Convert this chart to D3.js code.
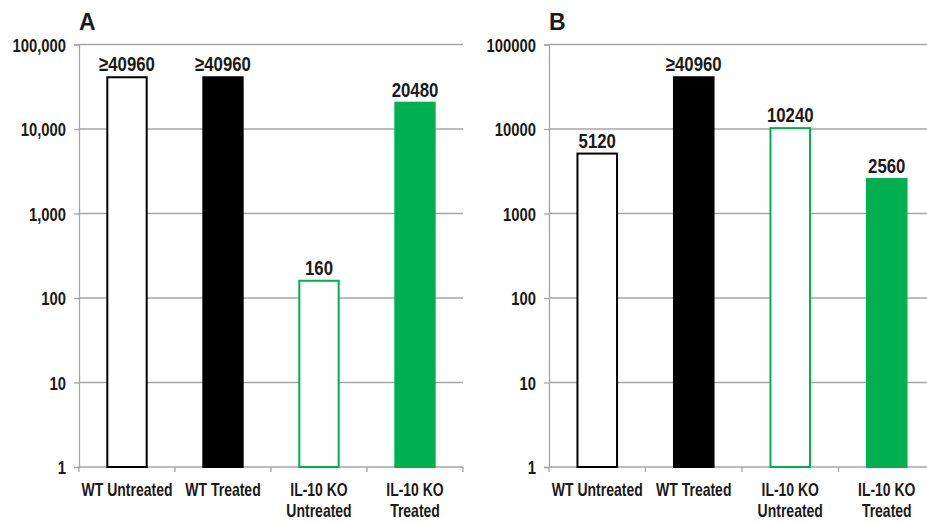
<!DOCTYPE html>
<html><head><meta charset="utf-8">
<script src="https://cdn.jsdelivr.net/npm/d3@7"></script>
<style>
body{margin:0;background:#fff;}
text{font-family:"Liberation Sans",Arial,sans-serif;font-weight:bold;fill:#1a1a1a;}
</style></head>
<body><svg id="c" width="927" height="522"></svg>
<script>
const categories = ["WT Untreated","WT Treated","IL-10 KO|Untreated","IL-10 KO|Treated"];
const panelTitles = ["A","B"];
const valuesA = [40960, 40960, 160, 20480];
const valuesB = [5120, 40960, 10240, 2560];
const labelsA = ["≥40960","≥40960","160","20480"];
const labelsB = ["5120","≥40960","10240","2560"];
const tickValues = [1,10,100,1000,10000,100000];
const tickLabelsA = ["1","10","100","1,000","10,000","100,000"];
const tickLabelsB = ["1","10","100","1000","10000","100000"];
const barFill = ["#ffffff","#000000","#ffffff","#00b050"];
const barStroke = ["#000000","#000000","#00b050","#00b050"];

(function(){
const svg = d3.select("#c");
const plotTop = 44.5, plotBottom = 467;
const SX = 0.8;
const panels = [
  {x0:79, x1:463, title:panelTitles[0], values:valuesA, labels:labelsA, ticks:tickLabelsA},
  {x0:549, x1:935, title:panelTitles[1], values:valuesB, labels:labelsB, ticks:tickLabelsB}
];
const y = d3.scaleLog().domain([1,100000]).range([plotBottom, plotTop]);

panels.forEach(p=>{
  const g = svg.append("g");
  const x = d3.scaleBand().domain(categories).range([p.x0,p.x1]).paddingInner(0.59).paddingOuter(0.295);
  const step = x.step();
  g.selectAll("line.grid").data(tickValues.slice(1)).join("line").attr("class","grid")
    .attr("x1",p.x0).attr("x2",p.x1).attr("y1",d=>y(d)).attr("y2",d=>y(d))
    .attr("stroke","#a6a6a6").attr("stroke-width",1.3);
  const ya = d3.axisLeft(y).tickValues(tickValues).tickSize(5).tickPadding(7)
    .tickFormat((d,i)=>p.ticks[i]);
  const yg = g.append("g").attr("transform",`translate(${p.x0},0)`).call(ya);
  yg.attr("font-family",null).attr("font-size",null);
  yg.select(".domain").attr("stroke","#a6a6a6").attr("stroke-width",1.3);
  yg.selectAll(".tick line").attr("stroke","#a6a6a6").attr("stroke-width",1.3);
  yg.selectAll(".tick text").attr("font-size",18.5).attr("fill","#1a1a1a")
    .attr("x",0).attr("dy","0.36em").attr("transform",`translate(-13,0) scale(${SX},1)`);
  const xg = g.append("g").attr("transform",`translate(0,${plotBottom})`);
  xg.append("line").attr("x1",p.x0).attr("x2",p.x1).attr("stroke","#a6a6a6").attr("stroke-width",1.3);
  const edges = d3.range(categories.length+1).map(i=>p.x0+i*step);
  xg.selectAll("line.t").data(edges).join("line").attr("class","t")
    .attr("x1",d=>d).attr("x2",d=>d).attr("y1",0).attr("y2",5)
    .attr("stroke","#a6a6a6").attr("stroke-width",1.3);
  categories.forEach((c,i)=>{
    const cx = x(c)+x.bandwidth()/2;
    const lines = c.split("|");
    const t = xg.append("text").attr("text-anchor","middle").attr("font-size",17.5)
      .attr("transform",`translate(${cx},29) scale(${SX},1)`);
    lines.forEach((l,j)=>t.append("tspan").attr("x",0).attr("dy",j?21:0).text(l));
  });
  g.selectAll("rect.bar").data(p.values).join("rect").attr("class","bar")
    .attr("x",(d,i)=>x(categories[i])).attr("width",x.bandwidth())
    .attr("y",d=>y(d)).attr("height",d=>plotBottom-y(d))
    .attr("fill",(d,i)=>barFill[i]).attr("stroke",(d,i)=>barStroke[i]).attr("stroke-width",2);
  g.selectAll("text.val").data(p.values).join("text").attr("class","val")
    .attr("text-anchor","middle").attr("font-size",21)
    .attr("transform",(d,i)=>`translate(${x(categories[i])+x.bandwidth()/2},${y(d)-6}) scale(${SX},1)`)
    .text((d,i)=>p.labels[i]);
  g.append("text").attr("x",p.x0).attr("y",30).attr("font-size",23).text(p.title);
});
})();
</script></body></html>
